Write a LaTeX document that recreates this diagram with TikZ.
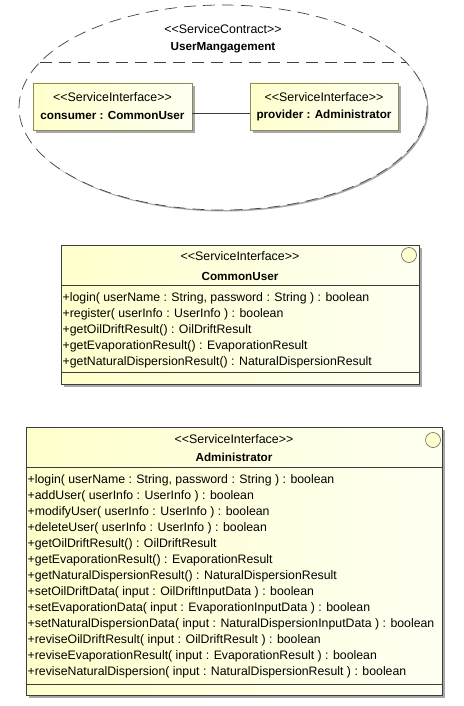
\documentclass[tikz,border=0pt]{standalone}
\usepackage{fontspec}
\setmainfont{Liberation Sans}
\usetikzlibrary{shapes.geometric}

\definecolor{umlfill}{HTML}{FFFFCC}
\definecolor{umlfilllight}{HTML}{FFFFF2}
\definecolor{umlline}{HTML}{3C3C3C}
\definecolor{partline}{HTML}{8C8C5A}
\definecolor{umlshadow}{HTML}{A8A8A8}

% stereotype brackets kept as two separate characters
\newcommand{\stereotype}[1]{<\kern0pt<#1>\kern0pt>}

\tikzset{
  x=1pt, y=-1pt,
  txt/.style={font=\fontsize{12.4}{14}\selectfont, inner sep=0pt},
  boldtxt/.style={txt, font=\fontsize{11.7}{14}\selectfont\bfseries},
  optxt/.style={txt, font=\fontsize{12.3}{14}\selectfont, anchor=west},
  classbox/.style={draw=umlline, line width=0.8pt, left color=umlfill, right color=umlfilllight,
    anchor=north west, inner sep=0pt, outer sep=0pt},
  partbox/.style={draw=partline, line width=0.8pt, left color=umlfill, right color=umlfilllight,
    anchor=north west, inner sep=0pt, outer sep=0pt},
  boxshadow/.style={fill=umlshadow, draw=none, anchor=north west, inner sep=0pt, outer sep=0pt},
  sep/.style={draw=umlline, line width=0.8pt},
  iface/.style={circle, draw=umlline!80, fill=umlfill, line width=0.6pt, minimum size=15pt, inner sep=0pt},
  contractdash/.style={dash pattern=on 12pt off 7pt, line width=0.7pt, draw=black!75},
}

\begin{document}
\begin{tikzpicture}
\useasboundingbox (0,0) rectangle (463,706);
\fill[white] (0,0) rectangle (463,706);

% ---------------- service contract ----------------
\node[ellipse, fill=umlshadow, minimum width=408pt, minimum height=205pt, inner sep=0pt] (contractshadow) at (224.5,109) {};
\node[ellipse, fill=white, minimum width=408pt, minimum height=205pt, inner sep=0pt] (contract) at (223,107.5) {};
\draw[contractdash] (contract.center) ellipse [x radius=204, y radius=102.5];
\draw[contractdash] (contract.166) -- (contract.14);
\node[txt] (contractstereo) at (223,29) {\stereotype{ServiceContract}};
\node[boldtxt] (contractname) at (223,48) {UserMangagement};

% parts
\node[boxshadow, minimum width=159pt, minimum height=47pt] (consumershadow) at (36,86) {};
\node[partbox, minimum width=159pt, minimum height=47pt] (consumer) at (33,83) {};
\node[txt] (consumerstereo) at (consumer.north |- 0,97) {\stereotype{ServiceInterface}};
\node[boldtxt] (consumername) at (consumer.north |- 0,115) {consumer : CommonUser};

\node[boxshadow, minimum width=148pt, minimum height=47pt] (providershadow) at (253,86) {};
\node[partbox, minimum width=148pt, minimum height=47pt] (provider) at (250,83) {};
\node[txt] (providerstereo) at (provider.north |- 0,97) {\stereotype{ServiceInterface}};
\node[boldtxt] (providername) at (provider.north |- 0,115) {provider : Administrator};

\draw[umlline, line width=0.8pt] ([yshift=-7pt]consumer.east) -- ([yshift=-7pt]provider.west);

% ---------------- CommonUser interface ----------------
\node[boxshadow, minimum width=358pt, minimum height=139pt] (cushadow) at (64,248) {};
\node[classbox, minimum width=358pt, minimum height=139pt] (cu) at (61,245) {};
\node[iface] (cucircle) at (409,255) {};
\node[txt] (custereo) at (cu.north |- 0,256) {\stereotype{ServiceInterface}};
\node[boldtxt] (cuname) at (cu.north |- 0,276) {CommonUser};
\draw[sep] (cu.west |- 0,285) -- (cu.east |- 0,285);
\draw[sep] (cu.west |- 0,372) -- (cu.east |- 0,372);
\foreach \op [count=\i from 0] in {
  {+login( userName : String, password : String ) : boolean},
  {+register( userInfo : UserInfo ) : boolean},
  {+getOilDriftResult() : OilDriftResult},
  {+getEvaporationResult() : EvaporationResult},
  {+getNaturalDispersionResult() : NaturalDispersionResult}}
  \node[optxt] (cuop\i) at (62.5,298+16*\i) {\op};

% ---------------- Administrator interface ----------------
\node[boxshadow, minimum width=416pt, minimum height=268pt] (adshadow) at (29,430) {};
\node[classbox, minimum width=416pt, minimum height=268pt] (ad) at (26,427) {};
\node[iface] (adcircle) at (433,440) {};
\node[txt] (adstereo) at (ad.north |- 0,439) {\stereotype{ServiceInterface}};
\node[boldtxt] (adname) at (ad.north |- 0,457) {Administrator};
\draw[sep] (ad.west |- 0,467) -- (ad.east |- 0,467);
\draw[sep] (ad.west |- 0,684) -- (ad.east |- 0,684);
\foreach \op [count=\i from 0] in {
  {+login( userName : String, password : String ) : boolean},
  {+addUser( userInfo : UserInfo ) : boolean},
  {+modifyUser( userInfo : UserInfo ) : boolean},
  {+deleteUser( userInfo : UserInfo ) : boolean},
  {+getOilDriftResult() : OilDriftResult},
  {+getEvaporationResult() : EvaporationResult},
  {+getNaturalDispersionResult() : NaturalDispersionResult},
  {+setOilDriftData( input : OilDriftInputData ) : boolean},
  {+setEvaporationData( input : EvaporationInputData ) : boolean},
  {+setNaturalDispersionData( input : NaturalDispersionInputData ) : boolean},
  {+reviseOilDriftResult( input : OilDriftResult ) : boolean},
  {+reviseEvaporationResult( input : EvaporationResult ) : boolean},
  {+reviseNaturalDispersion( input : NaturalDispersionResult ) : boolean}}
  \node[optxt] (adop\i) at (27.5,480+16*\i) {\op};
\end{tikzpicture}
\end{document}
